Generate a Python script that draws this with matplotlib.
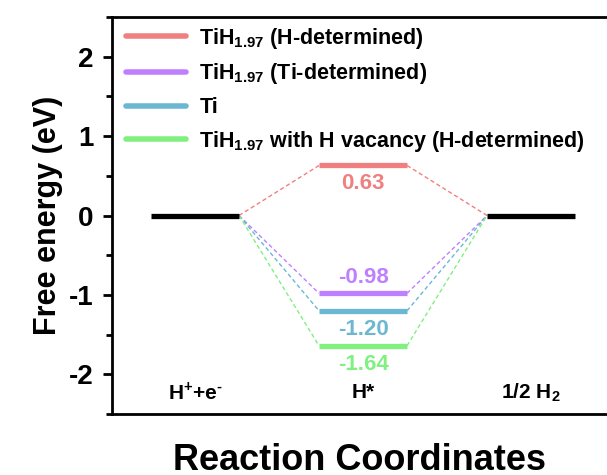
import matplotlib.pyplot as plt
import numpy as np

plt.rcParams['font.family'] = 'Liberation Sans'
plt.rcParams['font.weight'] = 'bold'
plt.rcParams['mathtext.fontset'] = 'custom'
plt.rcParams['mathtext.rm'] = 'Liberation Sans:bold'
plt.rcParams['mathtext.bf'] = 'Liberation Sans:bold'
plt.rcParams['axes.unicode_minus'] = False

# data
steps = ['H$^{+}$+e$^{\\text{-}}$', 'H*', '1/2 H$_{2}$']
step_x = [1, 2, 3]
series = ['TiH$_{1.97}$ (H-determined)', 'TiH$_{1.97}$ (Ti-determined)', 'Ti',
          'TiH$_{1.97}$ with H vacancy (H-determined)']
h_ads = [0.63, -0.98, -1.20, -1.64]
colors = ['#f08080', '#bf80ff', '#6cb8d2', '#80f080']
label_dy = [-0.23, 0.2, -0.24, -0.24]

hw = 0.262

fig = plt.figure(figsize=(6.07, 4.75), dpi=100)
ax = fig.add_axes([112/607, 61/475, 1 - 112/607, 397/475])

for name, g, c, dy in zip(series, h_ads, colors, label_dy):
    levels = [0, g, 0]
    ax.plot([step_x[1] - hw, step_x[1] + hw], [g, g], color=c, lw=3.8,
            solid_capstyle='butt', label=name)
    ax.plot([step_x[0] + hw, step_x[1] - hw], [levels[0], levels[1]], color=c, lw=1, ls=(0, (3, 2)))
    ax.plot([step_x[1] + hw, step_x[2] - hw], [levels[1], levels[2]], color=c, lw=1, ls=(0, (3, 2)))
    ax.text(step_x[1], g + dy, '%.2f' % g, color=c, ha='center', va='center',
            fontsize=16, fontweight='bold')

for x in [step_x[0], step_x[2]]:
    ax.plot([x - hw, x + hw], [0, 0], color='black', lw=3.8, solid_capstyle='butt')

for x, s in zip(step_x, steps):
    ax.text(x, -2.23, s, ha='center', va='center', fontsize=15, fontweight='bold')

ax.set_xlim(0.506, 3.452)
ax.set_ylim(-2.5, 2.5)
ax.set_xticks([])
ax.set_yticks([-2, -1, 0, 1, 2])
ax.set_yticks(np.arange(-2.5, 2.6, 0.5), minor=True)
ax.tick_params(axis='y', which='major', direction='out', length=6.5, width=2,
               labelsize=20, pad=7)
ax.tick_params(axis='y', which='minor', direction='out', length=4, width=2)
for sp in ['left', 'bottom', 'top']:
    ax.spines[sp].set_linewidth(2)
ax.spines['right'].set_visible(False)

ax.set_ylabel('Free energy (eV)', fontsize=22, fontweight='bold', labelpad=4)
ax.set_xlabel('Reaction Coordinates', fontsize=26, fontweight='bold', labelpad=21)

leg = ax.legend(loc='upper left', frameon=False, fontsize=15.5, handlelength=2.8,
                labelspacing=0.5, borderaxespad=0.0, handletextpad=0.6,
                bbox_to_anchor=(0.011, 1.0))
for line in leg.get_lines():
    line.set_linewidth(4)
    line.set_solid_capstyle('round')

fig.savefig('out.png', dpi=100)
